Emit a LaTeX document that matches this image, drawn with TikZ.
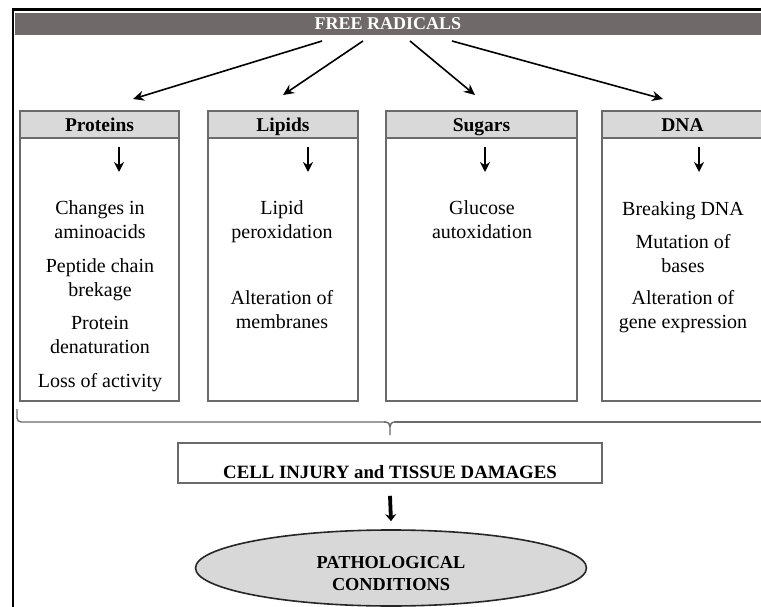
\documentclass[tikz,border=0pt]{standalone}
\usepackage{fontspec}
\setmainfont{Liberation Serif}
\usetikzlibrary{shapes.geometric,arrows.meta}

\definecolor{barfill}{HTML}{6F6969}
\definecolor{hdrfill}{HTML}{D9D9D9}
\definecolor{boxline}{HTML}{6A6A6A}
\definecolor{ovalfill}{HTML}{D8D8D8}

\tikzset{
  bodyfont/.style={font=\fontsize{20}{24}\selectfont},
  topbar/.style={fill=barfill, text=white, inner sep=0pt, outer sep=0pt,
    minimum width=746pt, minimum height=22.3pt,
    font=\fontsize{18}{22}\selectfont\bfseries},
  colhead/.style={draw=boxline, fill=hdrfill, line width=2.2pt, inner sep=0pt,
    outer sep=0pt, minimum height=27pt, text height=16.5pt, text depth=1.5pt,
    font=\fontsize{19.5}{24}\selectfont\bfseries},
  colbody/.style={draw=boxline, line width=2.2pt, inner sep=0pt, outer sep=0pt,
    minimum height=263pt},
  item/.style={bodyfont, align=center, inner sep=0pt,
    execute at begin node=\strut, execute at end node=\strut},
  fanarrow/.style={line width=1.6pt, -{Stealth[length=11pt,width=10pt]}},
  downarrow/.style={line width=2.2pt, -{Stealth[length=10pt,width=10pt]}},
  bigarrow/.style={line width=3.8pt, -{Stealth[length=7pt,width=11pt]}},
  bracket/.style={draw=boxline, line width=1.4pt},
  resultbox/.style={draw=boxline, line width=1.6pt, inner sep=0pt,
    minimum width=424pt, minimum height=40pt, text height=31pt, text depth=0.5pt,
    font=\fontsize{18.8}{22}\selectfont\bfseries},
  outcome/.style={ellipse, draw=black!85, fill=ovalfill, line width=1.6pt,
    inner sep=0pt, minimum width=391pt, minimum height=76pt, align=center,
    font=\fontsize{18.3}{22}\selectfont\bfseries}
}

\begin{document}
\begin{tikzpicture}[x=1pt,y=-1pt]
\useasboundingbox (0,0) rectangle (761,607);

% outer frame (left and top edges)
\draw[line width=2.2pt] (13,620) -- (13,9.5) -- (780,9.5);

% title bar
\node[topbar] (fr) at (388,23.85) {FREE RADICALS};

% column headers
\node[colhead, minimum width=159pt] (ph) at (99.5,124.5) {Proteins};
\node[colhead, minimum width=150pt] (lh) at (283,124.5) {Lipids};
\node[colhead, minimum width=191pt] (sh) at (481.5,124.5) {Sugars};
\node[colhead, minimum width=161pt] (dh) at (682.5,124.5) {DNA};

% column bodies
\node[colbody, minimum width=159pt, anchor=north] (pb) at (ph.south) {};
\node[colbody, minimum width=150pt, anchor=north] (lb) at (lh.south) {};
\node[colbody, minimum width=191pt, anchor=north] (sb) at (sh.south) {};
\node[colbody, minimum width=161pt, anchor=north] (db) at (dh.south) {};

% fan of arrows from the title bar
\coordinate (f1) at (322,41);
\coordinate (f2) at (363,41);
\coordinate (f3) at (410,41);
\coordinate (f4) at (452,41);
\coordinate (t1) at (133,99);
\coordinate (t2) at (283,95);
\coordinate (t3) at (475,95);
\coordinate (t4) at (663,99);
\draw[fanarrow] (f1) -- (t1);
\draw[fanarrow] (f2) -- (t2);
\draw[fanarrow] (f3) -- (t3);
\draw[fanarrow] (f4) -- (t4);

% arrows inside the columns
\draw[downarrow] ([xshift=19.5pt,yshift=-9pt]ph.south) -- ++(0,25);
\draw[downarrow] ([xshift=25pt,yshift=-9pt]lh.south) -- ++(0,25);
\draw[downarrow] ([xshift=3.5pt,yshift=-9pt]sh.south) -- ++(0,25);
\draw[downarrow] ([xshift=16.5pt,yshift=-9pt]dh.south) -- ++(0,25);

% column contents
\node[item] (p1) at (100,223) {Changes in\\aminoacids};
\node[item] (p2) at (100,281) {Peptide chain\\brekage};
\node[item] (p3) at (100,338) {Protein\\denaturation};
\node[item] (p4) at (100,383) {Loss of activity};

\node[item] (l1) at (282,223) {Lipid\\peroxidation};
\node[item] (l2) at (282,313) {Alteration of\\membranes};

\node[item] (s1) at (482,223) {Glucose\\autoxidation};

\node[item] (d1) at (683,211) {Breaking DNA};
\node[item] (d2) at (683,257) {Mutation of\\bases};
\node[item] (d3) at (683,313) {Alteration of\\gene expression};

% bracket gathering the four columns
\draw[bracket, rounded corners=4pt] (17,409) -- (17,422) -- (386,422);
\draw[bracket] (384,422) .. controls (389,422) and (390,424) .. (390,427) -- (390,435);
\draw[bracket] (396,422) .. controls (391,422) and (390,424) .. (390,427);
\draw[bracket] (394,422) -- (780,422);

% result and outcome
\node[resultbox] (cell) at (390,463) {CELL INJURY and TISSUE DAMAGES};
\node[outcome] (path) at (391,568) {\rule{0pt}{24pt}PATHOLOGICAL\\CONDITIONS};
\draw[bigarrow] ([yshift=-12pt]cell.south) -- ([yshift=8pt]path.north);
\end{tikzpicture}
\end{document}
